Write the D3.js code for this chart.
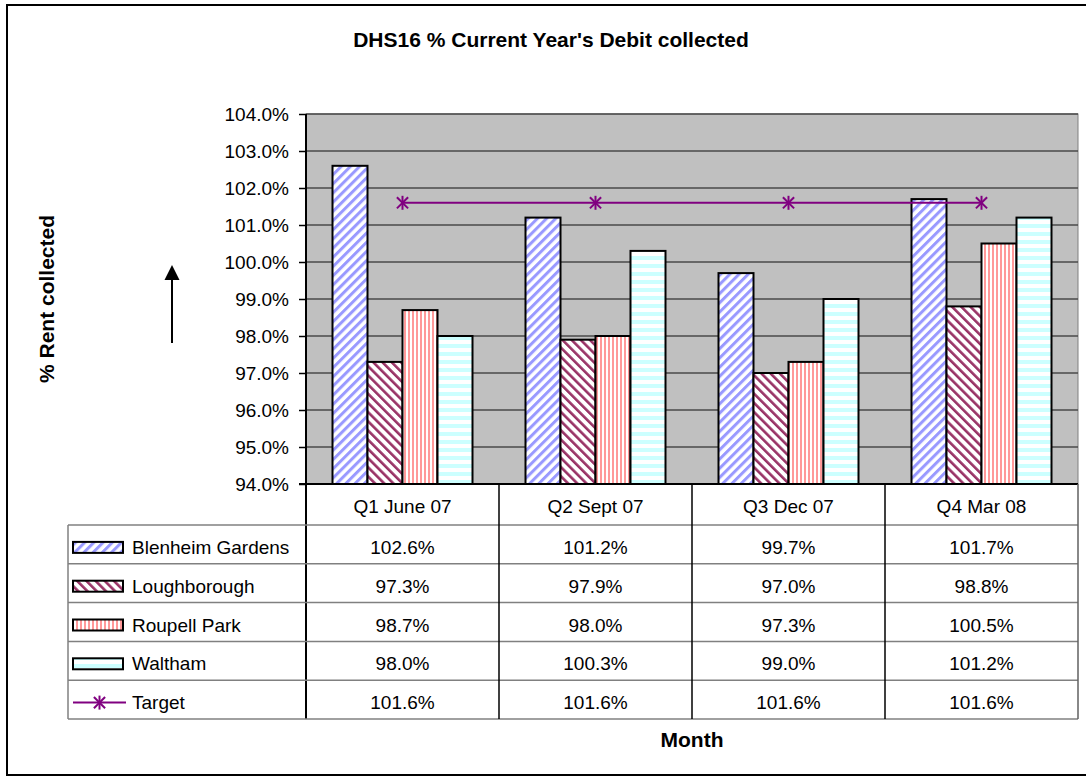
<!DOCTYPE html>
<html>
<head>
<meta charset="utf-8">
<script src="https://cdn.jsdelivr.net/npm/d3@7"></script>
<style>
  html, body { margin: 0; padding: 0; background: #fff; }
  svg { display: block; font-family: "Liberation Sans", Arial, sans-serif; }
</style>
</head>
<body>
<svg id="chart" width="1086" height="782"></svg>
<script>
// ---- data ----
const quarters = ["Q1 June 07", "Q2 Sept 07", "Q3 Dec 07", "Q4 Mar 08"];
const seriesNames = ["Blenheim Gardens", "Loughborough", "Roupell Park", "Waltham"];
const blenheim = [102.6, 101.2, 99.7, 101.7];
const loughborough = [97.3, 97.9, 97.0, 98.8];
const roupell = [98.7, 98.0, 97.3, 100.5];
const waltham = [98.0, 100.3, 99.0, 101.2];
const target = [101.6, 101.6, 101.6, 101.6];
const yTicks = [94, 95, 96, 97, 98, 99, 100, 101, 102, 103, 104];
const titleText = "DHS16 % Current Year's Debit collected";
const yTitle = "% Rent collected";
const xTitle = "Month";

const seriesValues = [blenheim, loughborough, roupell, waltham];
const patternIds = ["pBlen", "pLough", "pRoup", "pWalt"];

// ---- layout ----
const plotL = 306, plotR = 1078, plotT = 114, plotB = 484;
const tableL = 68, headerB = 525, tableB = 719;
const fmt = v => v.toFixed(1) + "%";

const svg = d3.select("#chart");
const defs = svg.append("defs");

function stripePattern(id, size, angle, stripeW, stripeColor, bg) {
  const p = defs.append("pattern").attr("id", id)
    .attr("patternUnits", "userSpaceOnUse")
    .attr("width", size).attr("height", size)
    .attr("patternTransform", `rotate(${angle})`);
  p.append("rect").attr("width", size).attr("height", size).attr("fill", bg);
  p.append("rect").attr("width", stripeW).attr("height", size).attr("fill", stripeColor);
}
stripePattern("pBlen", 6.5, 45, 3, "#9999ff", "#ffffff");
stripePattern("pLough", 6.5, -45, 2.6, "#993366", "#ffffff");
stripePattern("pRoup", 4, 0, 2, "#ff9999", "#ffffff");
stripePattern("pWalt", 8, 90, 4, "#ccffff", "#ffffff");

// outer border
svg.append("rect").attr("x", 7).attr("y", 5).attr("width", 1090).attr("height", 770)
  .attr("fill", "none").attr("stroke", "#000").attr("stroke-width", 2);

const y = d3.scaleLinear().domain([94, 104]).range([plotB, plotT]);
const x0 = d3.scaleBand().domain(quarters).range([plotL, plotR]);
const groupW = 140;
const x1 = d3.scaleBand().domain(seriesNames).range([0, groupW]);
const groupStart = q => x0(q) + (x0.bandwidth() - groupW) / 2;

// plot area
svg.append("rect").attr("x", plotL).attr("y", plotT)
  .attr("width", plotR - plotL).attr("height", plotB - plotT)
  .attr("fill", "#c0c0c0").attr("stroke", "#808080").attr("stroke-width", 1);

// gridlines
svg.append("g").selectAll("line").data(yTicks).join("line")
  .attr("x1", plotL).attr("x2", plotR)
  .attr("y1", d => y(d)).attr("y2", d => y(d))
  .attr("stroke", "#4a4a4a").attr("stroke-width", 1.5);

// y axis
const yAxis = d3.axisLeft(y).tickValues(yTicks).tickSize(7).tickPadding(10)
  .tickFormat(d => d.toFixed(1) + "%");
const gy = svg.append("g").attr("transform", `translate(${plotL},0)`).call(yAxis);
gy.select(".domain").remove();
gy.selectAll(".tick line").attr("stroke", "#000").attr("stroke-width", 1.5);
gy.selectAll(".tick text").attr("font-size", 19).attr("fill", "#000")
  .attr("font-family", "Liberation Sans, Arial, sans-serif");

// bars
seriesNames.forEach((s, si) => {
  svg.append("g").selectAll("rect").data(quarters).join("rect")
    .attr("x", q => groupStart(q) + x1(s))
    .attr("y", (q, i) => y(seriesValues[si][i]))
    .attr("width", x1.bandwidth())
    .attr("height", (q, i) => plotB - y(seriesValues[si][i]))
    .attr("fill", `url(#${patternIds[si]})`)
    .attr("stroke", "#000").attr("stroke-width", 2);
});

// target line
const tLine = d3.line().x((d, i) => x0(quarters[i]) + x0.bandwidth() / 2).y(d => y(d));
svg.append("path").datum(target).attr("d", tLine)
  .attr("fill", "none").attr("stroke", "#800080").attr("stroke-width", 2);

function star(g, cx, cy, r) {
  const sg = g.append("g").attr("stroke", "#800080").attr("stroke-width", 2);
  sg.append("line").attr("x1", cx).attr("x2", cx).attr("y1", cy - r).attr("y2", cy + r);
  sg.append("line").attr("x1", cx - r * 0.8).attr("x2", cx + r * 0.8).attr("y1", cy - r * 0.8).attr("y2", cy + r * 0.8);
  sg.append("line").attr("x1", cx - r * 0.8).attr("x2", cx + r * 0.8).attr("y1", cy + r * 0.8).attr("y2", cy - r * 0.8);
}
const starG = svg.append("g");
target.forEach((v, i) => star(starG, x0(quarters[i]) + x0.bandwidth() / 2, y(v), 7));

// axis line (continues through header row)
svg.append("line").attr("x1", plotL).attr("x2", plotL).attr("y1", plotT).attr("y2", tableB)
  .attr("stroke", "#000").attr("stroke-width", 2);
// x axis line
svg.append("line").attr("x1", plotL - 7).attr("x2", plotR).attr("y1", plotB).attr("y2", plotB)
  .attr("stroke", "#000").attr("stroke-width", 2);

// ---- data table ----
const nRows = seriesNames.length + 1;
const rowH = (tableB - headerB) / nRows;
const tbl = svg.append("g");
// horizontal lines
d3.range(nRows + 1).forEach(r => {
  const yy = headerB + r * rowH;
  tbl.append("line").attr("x1", tableL).attr("x2", plotR).attr("y1", yy).attr("y2", yy)
    .attr("stroke", "#808080").attr("stroke-width", 1.5);
});
// left border of legend column
tbl.append("line").attr("x1", tableL).attr("x2", tableL).attr("y1", headerB).attr("y2", tableB)
  .attr("stroke", "#808080").attr("stroke-width", 1.5);
// right border
tbl.append("line").attr("x1", plotR).attr("x2", plotR).attr("y1", plotB).attr("y2", tableB)
  .attr("stroke", "#606060").attr("stroke-width", 1.5);
// inner vertical lines
quarters.slice(1).forEach(q => {
  tbl.append("line").attr("x1", x0(q)).attr("x2", x0(q)).attr("y1", plotB).attr("y2", tableB)
    .attr("stroke", "#000").attr("stroke-width", 1.5);
});
// header labels
tbl.selectAll("text.hdr").data(quarters).join("text").attr("class", "hdr")
  .attr("x", q => x0(q) + x0.bandwidth() / 2)
  .attr("y", (plotB + headerB) / 2 + 2)
  .attr("dy", "0.35em").attr("text-anchor", "middle").attr("font-size", 19)
  .text(q => q);

const rowVals = [...seriesValues, target];
const rowNames = [...seriesNames, "Target"];
rowNames.forEach((name, r) => {
  const cy = headerB + (r + 0.5) * rowH + 3;
  // legend key
  if (r < seriesNames.length) {
    tbl.append("rect").attr("x", 73).attr("y", cy - 5.5).attr("width", 50).attr("height", 11)
      .attr("fill", `url(#${patternIds[r]})`).attr("stroke", "#000").attr("stroke-width", 2);
  } else {
    tbl.append("line").attr("x1", 73).attr("x2", 126).attr("y1", cy).attr("y2", cy)
      .attr("stroke", "#800080").attr("stroke-width", 2);
    star(tbl, 99.5, cy, 7);
  }
  tbl.append("text").attr("x", 132).attr("y", cy).attr("dy", "0.35em")
    .attr("font-size", 19).text(name);
  quarters.forEach((q, i) => {
    tbl.append("text").attr("x", x0(q) + x0.bandwidth() / 2).attr("y", cy).attr("dy", "0.35em")
      .attr("text-anchor", "middle").attr("font-size", 19).text(fmt(rowVals[r][i]));
  });
});

// titles
svg.append("text").attr("x", 551).attr("y", 47).attr("text-anchor", "middle")
  .attr("font-size", 21).attr("font-weight", "bold").text(titleText);
svg.append("text").attr("x", (plotL + plotR) / 2).attr("y", 747).attr("text-anchor", "middle")
  .attr("font-size", 21).attr("font-weight", "bold").text(xTitle);
svg.append("text").attr("transform", `translate(54,${(plotT + plotB) / 2}) rotate(-90)`)
  .attr("text-anchor", "middle").attr("font-size", 21).attr("font-weight", "bold").text(yTitle);

// arrow
svg.append("line").attr("x1", 172).attr("x2", 172).attr("y1", 343).attr("y2", 275)
  .attr("stroke", "#000").attr("stroke-width", 2);
svg.append("path").attr("d", d3.line()([[164.5, 280], [172, 265], [179.5, 280]]) + "Z")
  .attr("fill", "#000");
</script>
</body>
</html>
